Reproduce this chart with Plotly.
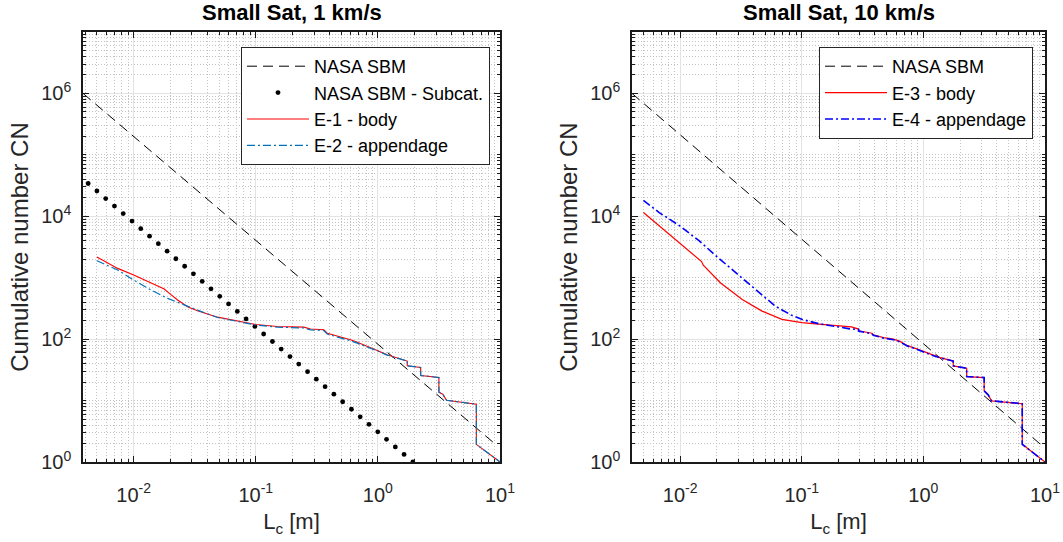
import plotly.graph_objects as go

# ---------------- data ----------------
sbm_lc = [0.00385, 9.3]
sbm_n = [1.0e6, 1.9]
sbm2_lc = [0.00402, 9.3]
sbm2_n = [1.0e6, 1.9]

sub_lc = [0.00424, 0.00500, 0.00590, 0.00696, 0.00821, 0.00969, 0.01143, 0.01349,
          0.01592, 0.01878, 0.02216, 0.02615, 0.03086, 0.03641, 0.04297, 0.05070,
          0.05983, 0.07060, 0.08330, 0.09830, 0.1160, 0.1369, 0.1615, 0.1906,
          0.2249, 0.2654, 0.3131, 0.3695, 0.4360, 0.5145, 0.6071, 0.7164,
          0.8453, 0.9975, 1.177, 1.389, 1.639, 1.934]
sub_n = [34200, 25790, 19450, 14670, 11070, 8345, 6294, 4747,
         3580, 2700, 2036, 1536, 1158, 873.6, 658.9, 496.9,
         374.8, 282.7, 213.2, 160.8, 121.3, 91.46, 68.98, 52.02,
         39.24, 29.59, 22.32, 16.83, 12.70, 9.576, 7.222, 5.447,
         4.108, 3.098, 2.337, 1.762, 1.329, 1.003]

e1_lc = [0.0050, 0.0074, 0.0100, 0.0139, 0.0178, 0.0196, 0.0229, 0.0276, 0.0333,
         0.0486, 0.0708, 0.100, 0.150, 0.192, 0.247, 0.281, 0.361, 0.385, 0.494,
         0.597, 0.678, 0.871, 1.00, 1.19, 1.40, 1.74, 1.74, 2.24, 2.24, 3.16,
         3.16, 3.40, 3.65, 6.40, 6.40, 10.0]
e1_n = [2170, 1419, 1104, 828, 653, 556, 433, 337, 290,
        228, 196, 173, 161, 161, 157, 146, 142, 125, 110,
        97.5, 89, 74, 65, 55.6, 50, 44, 36.7, 34.5, 25.6, 23.7,
        13.7, 12.7, 10.1, 8.7, 1.94, 1.0]

e2_lc = [0.0050, 0.0074, 0.0100, 0.0139, 0.0190, 0.0268, 0.0333,
         0.0486, 0.0708, 0.100, 0.150, 0.192, 0.247, 0.281, 0.361, 0.385, 0.494,
         0.597, 0.678, 0.871, 1.00, 1.19, 1.40, 1.74, 1.74, 2.24, 2.24, 3.16,
         3.16, 3.40, 3.65, 6.40, 6.40, 10.0]
e2_n = [1890, 1334, 916, 630, 460, 349, 297,
        225, 192, 170, 157, 155, 152, 142, 138, 121, 106,
        94, 86, 72, 64, 55, 50, 44, 36.7, 34.5, 25.6, 23.7,
        13.7, 12.7, 10.1, 8.7, 1.94, 1.0]

e3_lc = [0.00499, 0.0100, 0.0150, 0.0155, 0.0215, 0.0324, 0.0471, 0.0687, 0.100,
         0.137, 0.200, 0.256, 0.293, 0.293, 0.377, 0.387, 0.470, 0.567, 0.644,
         0.730, 0.882, 1.00, 1.21, 1.37, 1.76, 1.76, 2.27, 2.27, 3.16, 3.16,
         3.41, 3.63, 6.50, 6.50, 10.0]
e3_n = [11500, 3600, 1830, 1600, 820, 442, 286, 210, 186,
        175, 164, 158, 146, 137, 125, 118, 106, 100, 92,
        79, 69.5, 63, 54, 50, 44, 36.7, 33.6, 24.6, 23.7, 14.4,
        12.4, 9.9, 8.9, 1.94, 1.0]

e4_lc = [0.00499, 0.00673, 0.0100, 0.01429, 0.0208, 0.0303, 0.0443, 0.0605, 0.0828,
         0.100, 0.137, 0.200, 0.248, 0.293, 0.293, 0.377, 0.387, 0.470, 0.567, 0.644,
         0.730, 0.882, 1.00, 1.21, 1.37, 1.76, 1.76, 2.27, 2.27, 3.16, 3.16,
         3.41, 3.63, 6.50, 6.50, 10.0]
e4_n = [18100, 11500, 6900, 4000, 2070, 1090, 566, 345, 244,
        210, 179, 158, 147, 144, 135, 123, 116, 104, 98, 90,
        78, 68.5, 62, 53.5, 50, 44, 36.7, 33.6, 24.6, 23.7, 14.4,
        12.4, 9.9, 8.9, 1.94, 1.0]

x_tickvals = [0.01, 0.1, 1, 10]
x_ticktext = ["10<sup>-2</sup>", "10<sup>-1</sup>", "10<sup>0</sup>", "10<sup>1</sup>"]
y_tickvals = [1, 100, 1e4, 1e6]
y_ticktext = ["10<sup>0</sup>", "10<sup>2</sup>", "10<sup>4</sup>", "10<sup>6</sup>"]

titles = ["Small Sat, 1 km/s", "Small Sat, 10 km/s"]
x_title = "L<sub>c</sub> [m]"
y_title = "Cumulative number CN"

# ---------------- styling ----------------
FONT = "Liberation Sans, Arial, sans-serif"
W, H = 1063, 542
AX = "#1a1a1a"
TXT = "#262626"
DASH = "10px,6px"
DASHDOT = "8px,3px,2px,3px"

x_minor = [m * 10 ** k for k in range(-3, 1) for m in range(2, 10)]
y_minor = [m * 10 ** k for k in range(0, 7) for m in range(2, 10)] + [10, 1e3, 1e5, 1e7]

fig = go.Figure()

# left panel
fig.add_trace(go.Scatter(x=sbm_lc, y=sbm_n, mode="lines", name="NASA SBM",
                         line=dict(color="black", width=1, dash=DASH),
                         xaxis="x", yaxis="y", legend="legend", legendgroup="a1"))
fig.add_trace(go.Scatter(x=sub_lc, y=sub_n, mode="markers", name="NASA SBM - Subcat.",
                         marker=dict(color="black", size=4.8),
                         xaxis="x", yaxis="y", legend="legend", legendgroup="a2"))
fig.add_trace(go.Scatter(x=e1_lc, y=e1_n, mode="lines", name="E-1 - body",
                         line=dict(color="#FF0000", width=1.1),
                         xaxis="x", yaxis="y", legend="legend", legendgroup="a3"))
fig.add_trace(go.Scatter(x=e2_lc, y=e2_n, mode="lines", name="E-2 - appendage",
                         line=dict(color="#0072BD", width=1.2, dash=DASHDOT),
                         xaxis="x", yaxis="y", legend="legend", legendgroup="a4"))

# right panel
fig.add_trace(go.Scatter(x=sbm2_lc, y=sbm2_n, mode="lines", name="NASA SBM",
                         line=dict(color="black", width=1, dash=DASH),
                         xaxis="x2", yaxis="y2", legend="legend2", legendgroup="b1"))
fig.add_trace(go.Scatter(x=e3_lc, y=e3_n, mode="lines", name="E-3 - body",
                         line=dict(color="#FF0000", width=1.2),
                         xaxis="x2", yaxis="y2", legend="legend2", legendgroup="b2"))
fig.add_trace(go.Scatter(x=e4_lc, y=e4_n, mode="lines", name="E-4 - appendage",
                         line=dict(color="#0000FF", width=1.6, dash=DASHDOT),
                         xaxis="x2", yaxis="y2", legend="legend2", legendgroup="b3"))

y_dom = [1 - 462 / H, 1 - 32 / H]
x_doms = [[83 / W, 500 / W], [632 / W, 1045 / W]]
x_ranges = [[-2.415, 1], [-2.396, 1]]

minor_common = dict(ticks="inside", ticklen=3, tickcolor=AX, showgrid=True,
                    gridcolor="#c4c4c4", griddash="1px,2px", gridwidth=1)


def xaxis(i):
    return dict(
        type="log", domain=x_doms[i], range=x_ranges[i], anchor="y" if i == 0 else "y2",
        automargin=False,
        tickmode="array", tickvals=x_tickvals, ticktext=x_ticktext,
        ticks="inside", ticklen=6, tickwidth=1, tickcolor=AX,
        showline=True, linecolor=AX, linewidth=1.5, mirror="allticks",
        showgrid=True, gridcolor="#e3e3e3", gridwidth=1,
        minor=dict(tickmode="array", tickvals=x_minor, **minor_common),
        tickfont=dict(family=FONT, size=20, color=TXT),
        ticklabelstandoff=14,
        title=dict(text=x_title, font=dict(family=FONT, size=22, color=TXT), standoff=9),
        zeroline=False,
    )


def yaxis(i):
    return dict(
        type="log", domain=y_dom, range=[0, 7], anchor="x" if i == 0 else "x2",
        automargin=False,
        tickmode="array", tickvals=y_tickvals, ticktext=y_ticktext,
        ticks="inside", ticklen=6, tickwidth=1, tickcolor=AX,
        showline=True, linecolor=AX, linewidth=1.5, mirror="allticks",
        showgrid=True, gridcolor="#e3e3e3", gridwidth=1,
        minor=dict(tickmode="array", tickvals=y_minor, **minor_common),
        tickfont=dict(family=FONT, size=20, color=TXT),
        ticklabelstandoff=6,
        title=dict(text=y_title, font=dict(family=FONT, size=24, color=TXT), standoff=6),
        zeroline=False,
    )


legend_common = dict(
    bgcolor="white", bordercolor=TXT, borderwidth=1,
    font=dict(family=FONT, size=18, color="black"),
    itemwidth=62, xanchor="right", yanchor="top",
    orientation="v", traceorder="normal",
)

fig.update_layout(
    width=W, height=H,
    margin=dict(l=0, r=0, t=0, b=0),
    paper_bgcolor="white", plot_bgcolor="white",
    xaxis=xaxis(0), yaxis=yaxis(0),
    xaxis2=xaxis(1), yaxis2=yaxis(1),
    legend=dict(x=490 / W, y=1 - 47 / H, tracegroupgap=1, **legend_common),
    legend2=dict(x=1033 / W, y=1 - 47 / H, tracegroupgap=2, **legend_common),
    showlegend=True,
)

for i, t in enumerate(titles):
    fig.add_annotation(text="<b>" + t + "</b>", x=sum(x_doms[i]) / 2, y=1 - 12 / H,
                       xref="paper", yref="paper", showarrow=False,
                       xanchor="center", yanchor="middle",
                       font=dict(family=FONT, size=22, color="black"))

fig.write_html("out.html", config={"displayModeBar": False},
               post_script="document.body.style.margin='0';document.body.style.overflow='hidden';")
